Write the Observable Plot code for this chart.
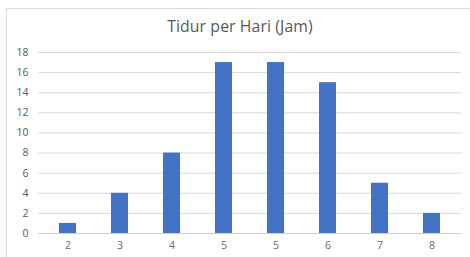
<!DOCTYPE html>
<html>
<head>
<meta charset="utf-8">
<script src="https://cdn.jsdelivr.net/npm/d3@7"></script>
<script src="https://cdn.jsdelivr.net/npm/@observablehq/plot@0.6"></script>
<style>
  html, body { margin: 0; padding: 0; background: #fff; }
  #wrap { position: relative; width: 470px; height: 257px; overflow: hidden; font-family: "Open Sans", "Noto Sans", sans-serif; }
  #frame { position: absolute; left: 6px; top: 8px; width: 480px; height: 260px; border-left: 1px solid #d9d9d9; border-top: 1px solid #d9d9d9; box-sizing: border-box; }
  #title { position: absolute; left: 0; width: 480px; top: 15px; text-align: center; font-size: 15.8px; color: #595959; letter-spacing: 0.1px; }
  svg { position: absolute; left: 0; top: 0; }
</style>
</head>
<body>
<div id="wrap">
  <div id="frame"></div>
  <div id="chart"></div>
  <div id="title">Tidur per Hari (Jam)</div>
</div>
<script>
const categories = ["2", "3", "4", "5", "5", "6", "7", "8"];
const values = [1, 4, 8, 17, 17, 15, 5, 2];
const yTicks = [0, 2, 4, 6, 8, 10, 12, 14, 16, 18];

const data = categories.map((c, i) => ({ i, label: c, value: values[i] }));

const chart = Plot.plot({
  width: 470,
  height: 257,
  marginLeft: 38,
  marginRight: 9,
  marginTop: 52,
  marginBottom: 24,
  style: { fontFamily: "Open Sans, Noto Sans, sans-serif", fontSize: "10.5px", color: "#595959", background: "transparent" },
  x: { type: "band", domain: d3.range(categories.length), paddingInner: 0.68, paddingOuter: 0.34 },
  y: { domain: [0, 18] },
  marks: [
    Plot.gridY(yTicks, { stroke: "#d9d9d9", strokeOpacity: 1 }),
    Plot.ruleY([0], { stroke: "#d0d0d0" }),
    Plot.barY(data, { x: "i", y: "value", fill: "#4472C4" }),
    Plot.axisX({ tickSize: 0, tickPadding: 8, tickFormat: i => categories[i], label: null, fill: "#6a6a6a" }),
    Plot.axisY(yTicks, { tickSize: 0, tickPadding: 10, label: null, fill: "#595959" })
  ]
});
document.getElementById("chart").appendChild(chart);
</script>
</body>
</html>
